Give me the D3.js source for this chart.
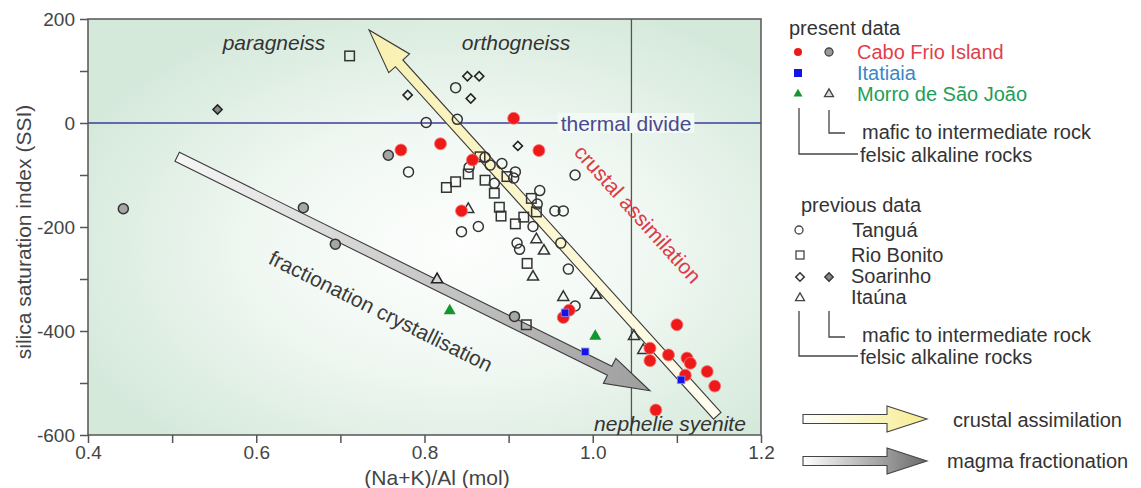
<!DOCTYPE html>
<html><head><meta charset="utf-8">
<script src="https://cdn.jsdelivr.net/npm/d3@7"></script>
<style>
body{margin:0;background:#fff;}
svg{display:block;font-family:"Liberation Sans",Arial,Helvetica,sans-serif;}
</style>
</head><body>
<svg id="c" width="1141" height="488"></svg>
<script>
// ---- data ----
const xTicks = [0.4, 0.6, 0.8, 1.0, 1.2];
const xMinor = [0.5, 0.7, 0.9, 1.1];
const yTicks = [200, 0, -200, -400, -600];
const yMinor = [100, -100, -300, -500];

const caboFrioFelsic = [[0.906,9],[0.772,-52],[0.819,-40],[0.857,-71],[0.936,-53],[0.844,-169],
  [0.972,-360],[0.965,-374],[1.100,-388],[1.068,-433],[1.068,-457],[1.090,-446],[1.112,-452],
  [1.116,-462],[1.110,-485],[1.136,-478],[1.145,-506],[1.075,-552]];
const caboFrioMafic = [[0.442,-165],[0.656,-163],[0.694,-233],[0.757,-62],[0.907,-372]];
const itatiaia = [[0.967,-365],[0.991,-440],[1.105,-494]];
const morroFelsic = [[0.830,-361],[1.003,-410]];
const morroMafic = [[0.815,-301]];
const tangua = [[0.802,1],[0.839,7],[0.837,68],[0.781,-94],[0.844,-209],[0.864,-199],[0.872,-66],
  [0.878,-81],[0.892,-78],[0.853,-85],[0.908,-94],[0.906,-106],[0.883,-116],[0.937,-130],
  [0.934,-156],[0.929,-199],[0.910,-231],[0.913,-243],[0.979,-100],[0.955,-169],[0.965,-169],
  [0.962,-231],[0.971,-281],[0.979,-352]];
const rioBonito = [[0.711,129],[0.826,-124],[0.837,-113],[0.852,-98],[0.866,-65],[0.872,-110],
  [0.883,-135],[0.889,-162],[0.891,-179],[0.908,-194],[0.918,-181],[0.898,-103],[0.927,-145],
  [0.933,-171],[0.922,-270],[0.921,-388]];
const soarinhoFelsic = [[0.851,90],[0.865,90],[0.780,54],[0.855,47],[0.911,-44]];
const soarinhoMafic = [[0.554,26]];
const itauna = [[0.852,-166],[0.933,-224],[0.942,-246],[0.929,-296],[0.965,-335],[1.004,-331],
  [1.049,-410],[1.060,-437]];

const thermalDivide = 0;
const alkalineDivide = 1.046;
const crustalArrow = [[1.148,-563],[0.734,179]];   // tail, tip
const fractionArrow = [[0.506,-65],[1.068,-515]];  // tail, tip

// ---- setup ----
const svg = d3.select("#c");
const L = 88, R = 761, T = 19, B = 435;
const x = d3.scaleLinear().domain([0.4, 1.2]).range([L, R]);
const y = d3.scaleLinear().domain([-600, 200]).range([B, T]);
const defs = svg.append("defs");

const bg = defs.append("radialGradient").attr("id","bg")
  .attr("cx","0.55").attr("cy","0.55").attr("r","0.62");
bg.append("stop").attr("offset","0").attr("stop-color","#fdfefd");
bg.append("stop").attr("offset","0.45").attr("stop-color","#f1f8f3");
bg.append("stop").attr("offset","1").attr("stop-color","#d5e9db");

defs.append("clipPath").attr("id","clip").append("rect")
  .attr("x",L).attr("y",T).attr("width",R-L).attr("height",B-T);

svg.append("rect").attr("x",L).attr("y",T).attr("width",R-L).attr("height",B-T)
  .attr("fill","url(#bg)");

const plot = svg.append("g").attr("clip-path","url(#clip)");

// vertical divide
plot.append("line").attr("x1",x(alkalineDivide)).attr("x2",x(alkalineDivide))
  .attr("y1",T).attr("y2",B).attr("stroke","#555").attr("stroke-width",1.3);

// thermal divide label + line
const tdText = svg.append("text").attr("x",626).attr("y",y(thermalDivide))
  .attr("text-anchor","middle").attr("dominant-baseline","central")
  .attr("font-size",21).attr("fill","#4a4a8e").text("thermal divide");
const tw = tdText.node().getComputedTextLength();
plot.append("rect").attr("x",626-tw/2-3).attr("y",y(0)-10).attr("width",tw+6).attr("height",20)
  .attr("fill","#f3f9f5");
plot.append("line").attr("x1",x(0.4)).attr("x2",626-tw/2-3).attr("y1",y(0)).attr("y2",y(0))
  .attr("stroke","#3c3c9c").attr("stroke-width",1.5);
plot.append("line").attr("x1",626+tw/2+3).attr("x2",x(1.2)).attr("y1",y(0)).attr("y2",y(0))
  .attr("stroke","#3c3c9c").attr("stroke-width",1.5);
tdText.raise();

// arrows
function arrowPath(p0, p1, sh, hh, hl){
  const dx=p1[0]-p0[0], dy=p1[1]-p0[1], len=Math.hypot(dx,dy);
  const ux=dx/len, uy=dy/len, nx=-uy, ny=ux;
  const bx=p1[0]-ux*hl, by=p1[1]-uy*hl;
  const pts=[[p0[0]+nx*sh,p0[1]+ny*sh],[bx+nx*sh,by+ny*sh],[bx+nx*hh,by+ny*hh],[p1[0],p1[1]],
    [bx-nx*hh,by-ny*hh],[bx-nx*sh,by-ny*sh],[p0[0]-nx*sh,p0[1]-ny*sh]];
  return "M"+pts.map(p=>p.join(",")).join("L")+"Z";
}
function drawArrow(id, arr, c0, c1){
  const p0=[x(arr[0][0]),y(arr[0][1])], p1=[x(arr[1][0]),y(arr[1][1])];
  const g=defs.append("linearGradient").attr("id",id).attr("gradientUnits","userSpaceOnUse")
    .attr("x1",p0[0]).attr("y1",p0[1]).attr("x2",p1[0]).attr("y2",p1[1]);
  g.append("stop").attr("offset","0").attr("stop-color",c0);
  g.append("stop").attr("offset","1").attr("stop-color",c1);
  plot.append("path").attr("d",arrowPath(p0,p1,5,14,45))
    .attr("fill",`url(#${id})`).attr("stroke","#3a3a3a").attr("stroke-width",1.1)
    .attr("stroke-linejoin","miter");
}
drawArrow("gCrust", crustalArrow, "#fffdf0", "#f8f0b0");
drawArrow("gFrac", fractionArrow, "#f6f6f6", "#9e9e9e");

// symbols
const stroke="#333";
function circles(data, r, fill, st, sw){
  plot.append("g").selectAll("circle").data(data).join("circle")
    .attr("cx",d=>x(d[0])).attr("cy",d=>y(d[1])).attr("r",r)
    .attr("fill",fill).attr("stroke",st).attr("stroke-width",sw);
}
function squares(data, s, fill, st, sw, rot){
  plot.append("g").selectAll("rect").data(data).join("rect")
    .attr("x",-s/2).attr("y",-s/2).attr("width",s).attr("height",s)
    .attr("transform",d=>`translate(${x(d[0])},${y(d[1])}) rotate(${rot||0})`)
    .attr("fill",fill).attr("stroke",st).attr("stroke-width",sw);
}
function tris(data, s, fill, st, sw){
  const h=s*Math.sqrt(3)/2;
  const p=`M0,${-h*2/3}L${s/2},${h/3}L${-s/2},${h/3}Z`;
  plot.append("g").selectAll("path").data(data).join("path")
    .attr("d",p).attr("transform",d=>`translate(${x(d[0])},${y(d[1])})`)
    .attr("fill",fill).attr("stroke",st).attr("stroke-width",sw);
}
circles(tangua, 5, "none", stroke, 1.5);
squares(rioBonito, 9.5, "none", stroke, 1.5, 0);
squares(soarinhoFelsic, 6.5, "none", "#222", 1.6, 45);
squares(soarinhoMafic, 6.5, "#888", "#222", 1.5, 45);
tris(itauna, 11, "none", stroke, 1.5);
tris(morroMafic, 11, "#d8d8d8", "#222", 1.6);
circles(caboFrioMafic, 5, "#a6a6a6", "#333", 1.5);
circles(caboFrioFelsic, 6, "#ee1a1a", "#f57a7a", 0.8);
squares(itatiaia, 7.5, "#1414e6", "#8c8cf0", 0.8, 0);
tris(morroFelsic, 12, "#14962e", "none", 0);

// frame
svg.append("rect").attr("x",L).attr("y",T).attr("width",R-L).attr("height",B-T)
  .attr("fill","none").attr("stroke","#555").attr("stroke-width",1.5);

// axes
const xa = svg.append("g").attr("transform",`translate(0,${B})`)
  .call(d3.axisBottom(x).tickValues(xTicks).tickFormat(d=>d.toFixed(1)).tickSize(8).tickPadding(3).tickSizeOuter(0));
const xm = svg.append("g").attr("transform",`translate(0,${B})`)
  .call(d3.axisBottom(x).tickValues(xMinor).tickFormat("").tickSize(8).tickSizeOuter(0));
const ya = svg.append("g").attr("transform",`translate(${L},0)`)
  .call(d3.axisLeft(y).tickValues(yTicks).tickFormat(d=>String(d)).tickSize(8).tickPadding(5).tickSizeOuter(0));
const ym = svg.append("g").attr("transform",`translate(${L},0)`)
  .call(d3.axisLeft(y).tickValues(yMinor).tickFormat("").tickSize(8).tickSizeOuter(0));
[xa,xm,ya,ym].forEach(a=>{
  a.select(".domain").remove();
  a.selectAll("line").attr("stroke","#555").attr("stroke-width",1.5);
  a.selectAll("text").attr("font-size",19).attr("fill","#444")
    .attr("font-family",'"Liberation Sans",Arial,sans-serif');
});

svg.append("text").attr("x",437).attr("y",477).attr("text-anchor","middle")
  .attr("dominant-baseline","central").attr("font-size",21).attr("fill","#444").text("(Na+K)/Al (mol)");
svg.append("text").attr("transform","translate(23,232) rotate(-90)").attr("text-anchor","middle")
  .attr("dominant-baseline","central").attr("font-size",21).attr("fill","#444")
  .text("silica saturation index (SSI)");

// annotations
function ann(tx,ty,txt,opts){
  const t=svg.append("text").attr("x",tx).attr("y",ty).attr("text-anchor","middle")
    .attr("dominant-baseline","central").attr("font-size",21).attr("fill",opts.fill||"#333")
    .text(txt);
  if(opts.italic) t.attr("font-style","italic");
  if(opts.rot) t.attr("transform",`rotate(${opts.rot},${tx},${ty})`);
}
ann(274,42,"paragneiss",{italic:true});
ann(516,42,"orthogneiss",{italic:true});
ann(670,423,"nephelie syenite",{italic:true});
ann(638,214,"crustal assimilation",{fill:"#dc3c46",rot:48});
ann(381,311,"fractionation crystallisation",{fill:"#3a3a3a",rot:26.4});

// legend
const lg = svg.append("g").attr("font-size",20);
function ltext(tx,ty,txt,fill){
  lg.append("text").attr("x",tx).attr("y",ty).attr("dominant-baseline","central")
    .attr("fill",fill||"#333").text(txt);
}
function lcirc(cx,cy,r,fill,st,sw){lg.append("circle").attr("cx",cx).attr("cy",cy).attr("r",r).attr("fill",fill).attr("stroke",st).attr("stroke-width",sw);}
function lsq(cx,cy,s,fill,st,sw,rot){lg.append("rect").attr("x",-s/2).attr("y",-s/2).attr("width",s).attr("height",s)
  .attr("transform",`translate(${cx},${cy}) rotate(${rot||0})`).attr("fill",fill).attr("stroke",st).attr("stroke-width",sw);}
function ltri(cx,cy,s,fill,st,sw){const h=s*Math.sqrt(3)/2;lg.append("path").attr("d",`M0,${-h*2/3}L${s/2},${h/3}L${-s/2},${h/3}Z`)
  .attr("transform",`translate(${cx},${cy})`).attr("fill",fill).attr("stroke",st).attr("stroke-width",sw);}
function lpath(d){lg.append("path").attr("d",d).attr("fill","none").attr("stroke","#444").attr("stroke-width",1.3);}

ltext(789,28,"present data");
lcirc(798,52,4,"#ee1a1a","none",0); lcirc(829,52,4,"#999","#444",1.3);
ltext(857,52,"Cabo Frio Island","#e0404c");
lsq(798,73,8,"#1414e6","none",0);
ltext(857,73,"Itatiaia","#3a86c6");
ltri(798,94,9,"#14962e","none",0); ltri(829,94,9,"#ddd","#444",1.3);
ltext(857,94,"Morro de São João","#1e9e58");
lpath("M829,110V133H845");
ltext(862,132,"mafic to intermediate rock");
lpath("M799,108V154H858");
ltext(860,155,"felsic alkaline rocks");

ltext(801,205,"previous data");
lcirc(799,230,4,"none","#444",1.3); ltext(852,230,"Tanguá");
lsq(800,255,8,"none","#444",1.3); ltext(851,255,"Rio Bonito");
lsq(800,277,6,"none","#333",1.5,45); lsq(829,277,6,"#888","#333",1.3,45); ltext(851,276,"Soarinho");
ltri(800,298,9,"none","#444",1.3); ltext(851,297,"Itaúna");
lpath("M829,311V337H845");
ltext(862,335,"mafic to intermediate rock");
lpath("M799,311V356H858");
ltext(860,357,"felsic alkaline rocks");

function legArrow(id, cy, c1){
  const g=defs.append("linearGradient").attr("id",id).attr("x1","0").attr("x2","1").attr("y1","0").attr("y2","0");
  g.append("stop").attr("offset","0").attr("stop-color","#ffffff");
  g.append("stop").attr("offset","1").attr("stop-color",c1);
  const d=`M803,${cy-4.5}H887V${cy-13}L927,${cy}L887,${cy+13}V${cy+4.5}H803Z`;
  lg.append("path").attr("d",d).attr("fill",`url(#${id})`).attr("stroke","#444").attr("stroke-width",1.1);
}
legArrow("lgC",419,"#f6ec90");
legArrow("lgF",461,"#6a6a6a");
ltext(953,420,"crustal assimilation");
ltext(947,461,"magma fractionation");
</script>
</body></html>
